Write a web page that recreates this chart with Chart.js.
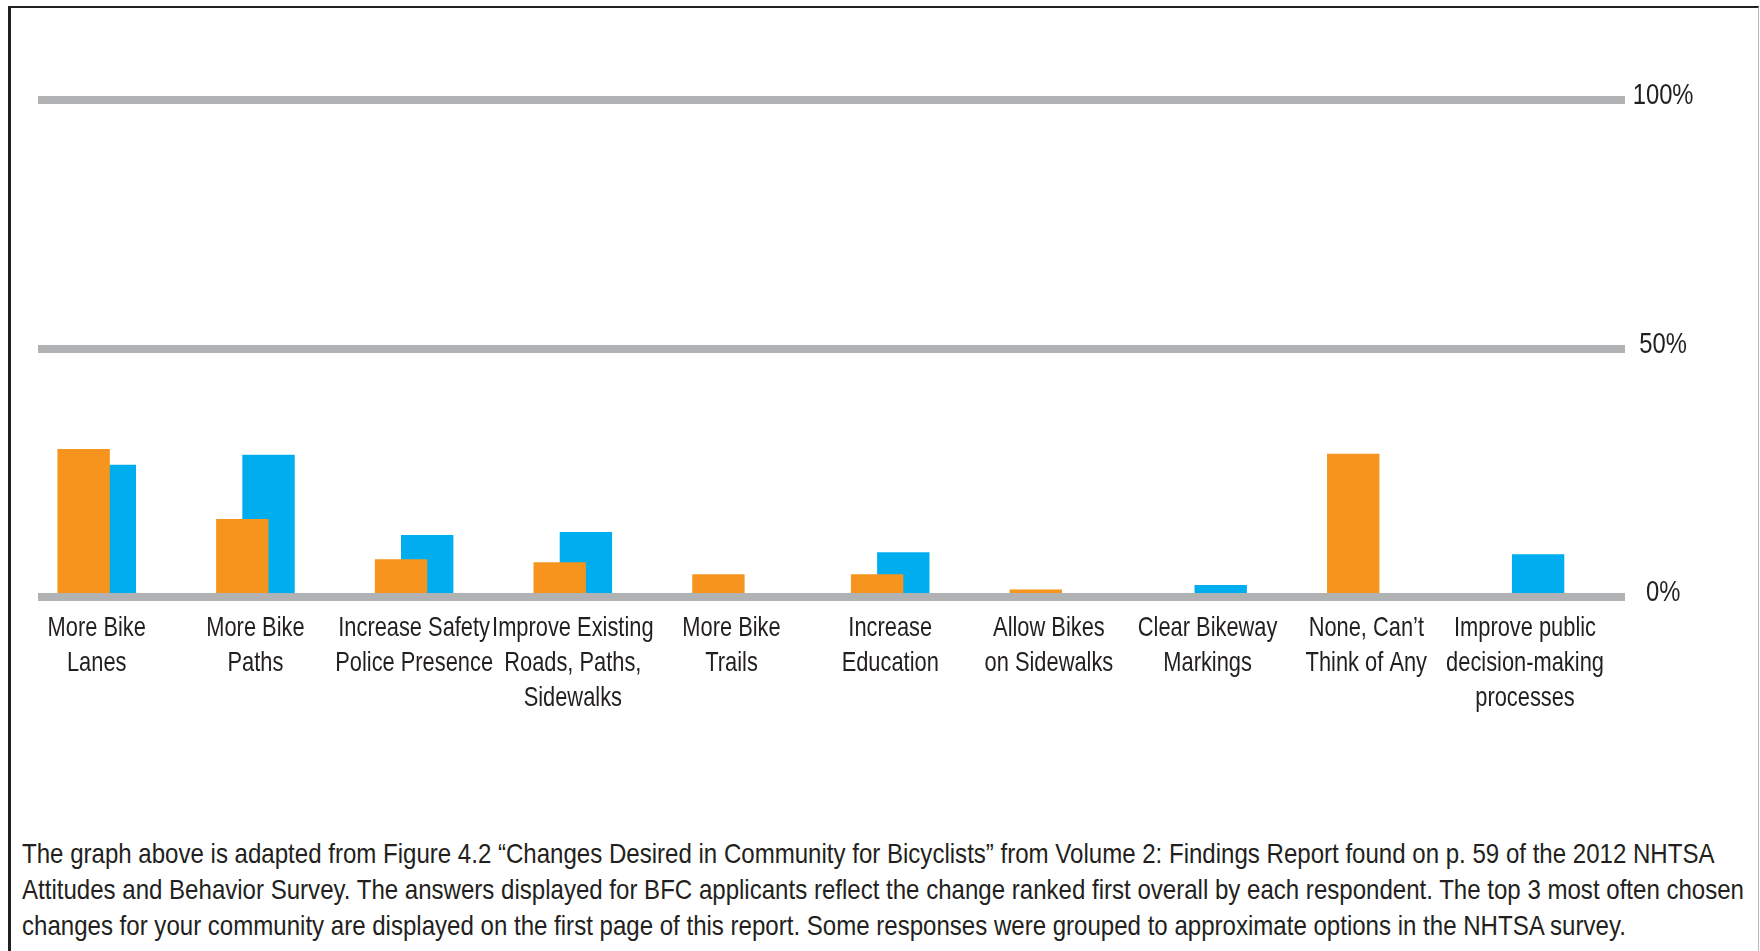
<!DOCTYPE html>
<html>
<head>
<meta charset="utf-8">
<script src="https://cdn.jsdelivr.net/npm/chart.js@4.4.1/dist/chart.umd.min.js"></script>
<style>
  html, body { margin: 0; padding: 0; background: #ffffff; width: 1760px; height: 951px; overflow: hidden; }
  #frame { position: absolute; left: 8px; top: 6px; width: 1747px; height: 1000px;
           border-left: 3px solid #231f20; border-top: 2px solid #231f20; border-right: 1px solid #b8b8b8; }
  #chart { position: absolute; left: 0; top: 0; }
  #note { position: absolute; left: 22px; top: 836px; margin: 0;
          font-family: "Liberation Sans", Arial, sans-serif;
          font-size: 28px; line-height: 36px; color: #231f20; white-space: nowrap;
          transform-origin: 0 0; }
</style>
</head>
<body>
<div id="frame"></div>
<canvas id="chart" width="1760" height="720"></canvas>
<p id="note">The graph above is adapted from Figure 4.2 “Changes Desired in Community for Bicyclists” from Volume 2: Findings Report found on p. 59 of the 2012 NHTSA<br>Attitudes and Behavior Survey. The answers displayed for BFC applicants reflect the change ranked first overall by each respondent. The top 3 most often chosen<br>changes for your community are displayed on the first page of this report. Some responses were grouped to approximate options in the NHTSA survey.</p>
<script>
const categories = [
  ["More Bike", "Lanes"],
  ["More Bike", "Paths"],
  ["Increase Safety", "Police Presence"],
  ["Improve Existing", "Roads, Paths,", "Sidewalks"],
  ["More Bike", "Trails"],
  ["Increase", "Education"],
  ["Allow Bikes", "on Sidewalks"],
  ["Clear Bikeway", "Markings"],
  ["None, Can’t", "Think of Any"],
  ["Improve public", "decision-making", "processes"]
];
const nhtsaValues = [29.8, 15.7, 7.6, 7.0, 4.6, 4.6, 1.5, null, 28.8, null];
const bfcValues   = [26.6, 28.6, 12.5, 13.1, null, 9.0, null, 2.4, null, 8.6];
const yTicks = [0, 50, 100];

const FONT = '"Liberation Sans", Arial, sans-serif';
const X_FONT_SIZE = 28, Y_FONT_SIZE = 29;

// narrow (condensed) rendering of the chart's text
const canvas = document.getElementById('chart');
const ctx2d = canvas.getContext('2d');
const nativeFillText = ctx2d.fillText;
ctx2d.fillText = function (text, x, y) {
  const k = this.font.indexOf(Y_FONT_SIZE + 'px') >= 0 ? 0.82 : 0.78;
  this.save();
  this.translate(x, y);
  this.scale(k, 1);
  nativeFillText.call(this, text, 0, 0);
  this.restore();
};

// condensed footnote, fitted to the reference's widest line
const note = document.getElementById('note');
note.style.transform = 'scaleX(' + (1722 / note.getBoundingClientRect().width) + ')';

const toPoints = vals => vals.map((v, i) => ({ x: i, y: v }));

new Chart(canvas, {
  type: 'bar',
  data: {
    datasets: [
      { label: 'NHTSA', data: toPoints(nhtsaValues), backgroundColor: '#f7941d', borderWidth: 0 },
      { label: 'BFC Applicants', data: toPoints(bfcValues), backgroundColor: '#00aeef', borderWidth: 0 }
    ]
  },
  options: {
    responsive: false,
    animation: false,
    devicePixelRatio: 1,
    categoryPercentage: 0.33,
    barPercentage: 2.0,
    layout: { padding: { left: 38, top: 100, right: 0, bottom: 0 } },
    plugins: { legend: { display: false }, tooltip: { enabled: false } },
    scales: {
      x: {
        type: 'linear',
        offset: false,
        min: -0.37,
        max: 9.63,
        grid: { display: false },
        border: { display: false },
        afterBuildTicks: axis => { axis.ticks = categories.map((_, i) => ({ value: i })); },
        afterFit: axis => { axis.height = 123; },
        ticks: {
          autoSkip: false,
          maxRotation: 0,
          minRotation: 0,
          padding: 6,
          color: '#231f20',
          font: { family: FONT, size: X_FONT_SIZE, lineHeight: 1.24 },
          callback: v => categories[v]
        }
      },
      y: {
        position: 'right',
        min: 0,
        max: 100,
        z: 1,
        grid: { color: '#b1b2b4', lineWidth: 8, drawTicks: false },
        border: { display: false },
        afterBuildTicks: axis => { axis.ticks = yTicks.map(v => ({ value: v })); },
        afterFit: axis => { axis.width = 135; },
        ticks: {
          padding: 1,
          labelOffset: -4,
          crossAlign: 'center',
          color: '#231f20',
          font: { family: FONT, size: Y_FONT_SIZE },
          callback: v => v + '%'
        }
      }
    }
  }
});
</script>
</body>
</html>
